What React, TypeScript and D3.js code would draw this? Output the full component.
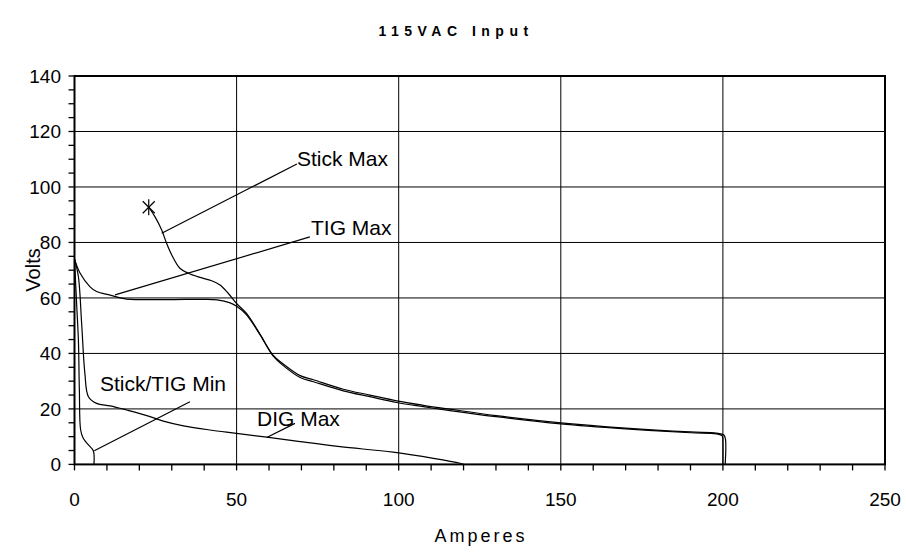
import React from "react";
import * as d3 from "d3";

type P = [number, number];

const title = "115VAC Input";
const xLabel = "Amperes";
const yLabel = "Volts";
const xTicks = [0, 50, 100, 150, 200, 250];
const yTicks = [0, 20, 40, 60, 80, 100, 120, 140];

const tigMax: P[] = [
  [0, 74], [1.7, 69], [4.8, 64], [6.8, 62.3], [11, 61], [16, 59.6], [20, 59.4], [30, 59.4],
  [40, 59.5], [44, 59.3], [48, 58.2], [50, 57], [53, 54], [57.2, 46.8], [61.3, 39], [64.4, 35.6],
  [69.6, 31.3], [73.7, 29.8], [82.9, 26.5], [91.1, 24.4], [99.4, 22.3], [107.6, 20.8], [115.8, 19.4],
  [130, 17.2], [150, 14.6], [170, 12.8], [190, 11.4], [198, 11], [199.8, 10.3], [200, 8], [200, 0],
];

const stickMax: P[] = [
  [22.9, 92.7], [24.8, 89.3], [26.9, 84.5], [28.4, 79.7], [30, 75.5], [32.5, 70.7], [35.1, 68.9],
  [38.7, 67.4], [42.3, 66.2], [44.9, 64.7], [47.4, 61.7], [50, 58], [53, 54.5], [57.2, 47],
  [61.3, 39.3], [64.4, 36.2], [69.6, 32], [73.7, 30.5], [82.9, 27.1], [91.1, 25], [99.4, 22.9],
  [107.6, 21.3], [115.8, 19.9], [130, 17.6], [150, 15], [170, 13.1], [190, 11.7], [198, 11.3],
  [200.3, 10.6], [200.8, 9], [200.7, 0],
];

const stickTigMin: P[] = [
  [0, 74], [0.7, 56.8], [1.2, 44.8], [1.5, 26.8], [1.9, 12.4], [2.7, 9.4], [4.3, 7], [5.8, 4.9], [6, 0],
];

const digMax: P[] = [
  [0, 74], [1.2, 67.7], [2.2, 50.9], [3.2, 32.8], [4.3, 24.4], [6.8, 22], [11, 21.1], [16.1, 19.6],
  [22.3, 17.6], [27.4, 15.6], [33.6, 13.9], [41.8, 12.4], [50, 11.2], [59.3, 9.8], [69.6, 8.2],
  [81.9, 6.4], [98.3, 4.4], [110.7, 2.2], [118.9, 0.4], [120, 0],
];

const labels: { text: string; tx: number; ty: number; from: P; to: P }[] = [
  { text: "Stick Max", tx: 297, ty: 166, from: [26.9, 83.3], to: [68.6, 108.3] },
  { text: "TIG Max", tx: 311, ty: 235, from: [12.5, 61.1], to: [72.6, 82] },
  { text: "Stick/TIG Min", tx: 100, ty: 391, from: [6.1, 4.9], to: [35.6, 22.6] },
  { text: "DIG Max", tx: 257, ty: 426, from: [59.3, 9.7], to: [68, 14.8] },
];

const markerPt: P = [22.9, 92.7];

export default function App() {
  const W = 906, H = 552;
  const x = d3.scaleLinear().domain([0, 250]).range([74.5, 885]);
  const y = d3.scaleLinear().domain([0, 140]).range([464.4, 76]);
  const line = d3.line<P>().x((d) => x(d[0])).y((d) => y(d[1])).curve(d3.curveCatmullRom.alpha(0.5));
  const font = "'Liberation Sans', Arial, sans-serif";
  const xMinor = d3.range(0, 251, 10);
  const yMinor = d3.range(0, 141, 5);
  const [mx, my] = [x(markerPt[0]), y(markerPt[1])];

  return (
    <svg width={W} height={H} style={{ position: "absolute", left: 0, top: 0, background: "#fff" }} fontFamily={font}>
      <rect width={W} height={H} fill="#fff" />
      <text x={456} y={36} textAnchor="middle" fontSize={14} fontWeight="bold" letterSpacing={5.5}>{title}</text>
      {/* grid */}
      {xTicks.slice(1, -1).map((t) => (
        <line key={"gx" + t} x1={x(t)} x2={x(t)} y1={y(0)} y2={y(140)} stroke="#000" strokeWidth={1} />
      ))}
      {yTicks.slice(1, -1).map((t) => (
        <line key={"gy" + t} x1={x(0)} x2={x(250)} y1={y(t)} y2={y(t)} stroke="#000" strokeWidth={1} />
      ))}
      {/* minor ticks */}
      {xMinor.map((t) => (
        <line key={"mx" + t} x1={x(t)} x2={x(t)} y1={y(0)} y2={y(0) + 6} stroke="#000" strokeWidth={1.3} />
      ))}
      {yMinor.map((t) => (
        <line key={"my" + t} x1={x(0) - 6} x2={x(0)} y1={y(t)} y2={y(t)} stroke="#000" strokeWidth={1.3} />
      ))}
      {/* frame */}
      <rect x={x(0)} y={y(140)} width={x(250) - x(0)} height={y(0) - y(140)} fill="none" stroke="#000" strokeWidth={2} />
      {/* tick labels */}
      {yTicks.map((t) => (
        <text key={"yl" + t} x={61} y={y(t)} dy="0.36em" textAnchor="end" fontSize={19}>{t}</text>
      ))}
      {xTicks.map((t) => (
        <text key={"xl" + t} x={x(t)} y={506} textAnchor="middle" fontSize={19}>{t}</text>
      ))}
      <text x={481} y={542} textAnchor="middle" fontSize={18} letterSpacing={3}>{xLabel}</text>
      <text transform={`translate(40,270) rotate(-90)`} textAnchor="middle" fontSize={20}>{yLabel}</text>
      {/* curves */}
      {[tigMax, stickMax, stickTigMin, digMax].map((s, i) => (
        <path key={"c" + i} d={line(s) || ""} fill="none" stroke="#000" strokeWidth={1.2} />
      ))}
      {/* marker */}
      <g stroke="#000" strokeWidth={1.2}>
        <line x1={mx - 6} x2={mx + 6} y1={my - 6} y2={my + 6} />
        <line x1={mx - 6} x2={mx + 6} y1={my + 6} y2={my - 6} />
        <line x1={mx} x2={mx} y1={my - 8} y2={my + 8} />
      </g>
      {/* labels */}
      {labels.map((l) => (
        <g key={l.text}>
          <line x1={x(l.from[0])} y1={y(l.from[1])} x2={x(l.to[0])} y2={y(l.to[1])} stroke="#000" strokeWidth={1.2} />
          <text x={l.tx} y={l.ty} fontSize={21}>{l.text}</text>
        </g>
      ))}
    </svg>
  );
}
